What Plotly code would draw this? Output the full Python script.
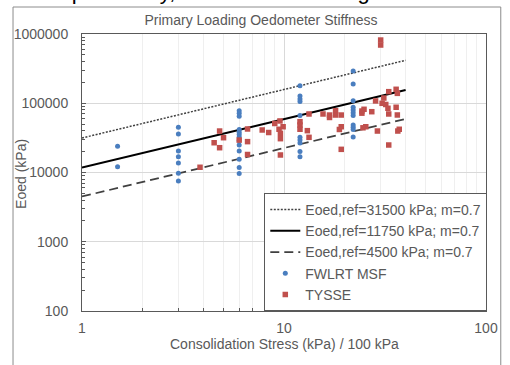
import plotly.graph_objects as go
import numpy as np

# ---------------- data ----------------
fwlrt_x = [1.5, 1.5,
           3, 3, 3, 3, 3, 3, 3,
           6, 6, 6, 6, 6, 6, 6, 6, 6, 6, 6, 6, 6,
           12, 12, 12, 12, 12, 12, 12, 12, 12, 12,
           22, 22, 22, 22, 22, 22, 22, 22, 22, 22, 22]
fwlrt_y = [24000, 12100,
           45000, 36000, 20400, 16900, 13700, 9750, 7550,
           78000, 71600, 64800, 41800, 38000, 35400, 32600, 29000, 25000, 20400, 15500, 11800, 9700,
           179000, 127000, 115000, 106000, 66500, 32200, 29400, 26700, 20100, 16900,
           292000, 190000, 109000, 87500, 80000, 73100, 66500, 48500, 45000, 41800, 32600]

tysse_x = [3.84, 4.51, 4.80, 5.02, 4.80, 6.0, 6.6, 6.6, 6.6, 7.8, 8.4, 9.0, 9.55, 9.9, 9.45,
           9.6, 9.6, 9.6, 12, 12, 12, 13.05, 13.3, 13.3, 15.6, 16.8, 16.8, 18, 18, 19.2, 19.2,
           18.8, 19.2, 24.3, 24.9, 24.3, 27.2, 25.4, 24.6, 28.4, 29, 30.1, 30.1, 30.6, 31.9,
           31.2, 33, 35.9, 36.4, 32.7, 33, 35.9, 36.4, 37.2, 36.6, 33]
tysse_y = [11900, 26900, 39700, 31800, 22800, 29400, 42500, 27900, 18200, 41100, 37800, 51000, 55500, 45800, 42100,
           36800, 30800, 17900, 54200, 48500, 42100, 40200, 32200, 70000, 70000, 67600, 62300, 78000, 67600, 67600, 45800,
           41800, 21600, 77200, 81800, 71900, 75500, 45800, 44200, 108000, 39700, 818000, 693000, 99800, 96000,
           119000, 147000, 159000, 139000, 84600, 70000, 87500, 67700, 42100, 39700, 24950]

eref_values = [31500, 11750, 4500]
m_exp = 0.7
fit_x = [1, 40]

y_tickvals = [100, 1000, 10000, 100000, 1000000]
y_ticktext = ["100", "1000", "10000", "100000", "1000000"]
x_tickvals = [1, 10, 100]
x_ticktext = ["1", "10", "100"]

title_text = "Primary Loading Oedometer Stiffness"
x_title = "Consolidation Stress (kPa) / 100 kPa"
y_title = "Eoed (kPa)"
doc_text = "ussed previously, and is shown in Figure 6."

# ---------------- figure ----------------
FONT = "Arial, 'Liberation Sans', sans-serif"
GREY = "#595959"

fig = go.Figure()

line_styles = [dict(color="#404040", width=1.5, dash="2px,1.5px"),
               dict(color="#000000", width=2, dash="solid"),
               dict(color="#404040", width=1.75, dash="9px,5px")]
for eref, st in zip(eref_values, line_styles):
    fx = np.array(fit_x, dtype=float)
    fig.add_trace(go.Scatter(x=fx, y=eref * fx ** m_exp, mode="lines", line=st,
                             name=f"Eoed,ref={eref} kPa; m={m_exp}"))

fig.add_trace(go.Scatter(x=fwlrt_x, y=fwlrt_y, mode="markers", name="FWLRT MSF",
                         marker=dict(symbol="circle", size=5, color="#4a7ebf")))
fig.add_trace(go.Scatter(x=tysse_x, y=tysse_y, mode="markers", name="TYSSE",
                         marker=dict(symbol="square", size=5.5, color="#c0504d")))

minor_vals = [k * 10 ** d for d in range(0, 6) for k in range(2, 10)]

fig.update_xaxes(type="log", range=[0, 2], tickmode="array", tickvals=x_tickvals, ticktext=x_ticktext,
                 showline=True, linecolor=GREY, linewidth=1, mirror=True,
                 ticks="inside", ticklen=4, tickcolor=GREY,
                 showgrid=True, gridcolor="#d9d9d9", gridwidth=1, zeroline=False,
                 tickfont=dict(family=FONT, size=14, color=GREY), ticklabelstandoff=4,
                 minor=dict(tickmode="array", tickvals=minor_vals, ticks="inside", ticklen=3,
                            tickcolor=GREY, showgrid=True, gridcolor="#efefef", gridwidth=1))
fig.update_yaxes(type="log", range=[2, 6], tickmode="array", tickvals=y_tickvals, ticktext=y_ticktext,
                 showline=True, linecolor=GREY, linewidth=1, mirror=True,
                 ticks="inside", ticklen=4, tickcolor=GREY,
                 showgrid=True, gridcolor="#d9d9d9", gridwidth=1, zeroline=False,
                 tickfont=dict(family=FONT, size=14, color=GREY), ticklabelstandoff=10,
                 minor=dict(tickmode="array", tickvals=minor_vals, ticks="inside", ticklen=3,
                            tickcolor=GREY, showgrid=False))

L, R, T, B = 82, 18, 34, 54
W, H = 510, 365
pw, ph = W - L - R, H - T - B

def px(xp):
    return (xp - L) / pw

def py(yp):
    return (H - B - yp) / ph

fig.update_layout(
    width=W, height=H, margin=dict(l=L, r=R, t=T, b=B, pad=0),
    paper_bgcolor="white", plot_bgcolor="white",
    font=dict(family=FONT, size=14, color=GREY),
    showlegend=True,
    legend=dict(x=px(267), y=py(193), xanchor="left", yanchor="top",
                bgcolor="white", bordercolor=GREY, borderwidth=1,
                font=dict(family=FONT, size=14, color=GREY), itemwidth=30,
                tracegroupgap=0),
    title=dict(text=title_text, x=261 / W, xanchor="center", xref="container",
               y=1 - 20.5 / H, yanchor="middle", yref="container",
               font=dict(family=FONT, size=14, color=GREY)),
)

fig.add_annotation(text=x_title, xref="paper", yref="paper", x=px(287.5), y=py(344),
                   xanchor="center", yanchor="middle", showarrow=False,
                   font=dict(family=FONT, size=14, color=GREY))
fig.add_annotation(text=y_title, xref="paper", yref="paper", x=px(20), y=py(174),
                   xanchor="center", yanchor="middle", showarrow=False, textangle=-90,
                   font=dict(family=FONT, size=14, color=GREY))
fig.add_annotation(text=doc_text, xref="paper", yref="paper", x=px(4), y=py(-9),
                   xanchor="left", yanchor="middle", showarrow=False,
                   font=dict(family=FONT, size=22, color="#000000"))

# chart-area frame
fig.add_shape(type="rect", xref="paper", yref="paper",
              x0=px(12), x1=px(507), y0=py(372), y1=py(7),
              line=dict(color="#8c8c8c", width=1), fillcolor="rgba(0,0,0,0)", layer="below")

fig.write_html("out.html")
